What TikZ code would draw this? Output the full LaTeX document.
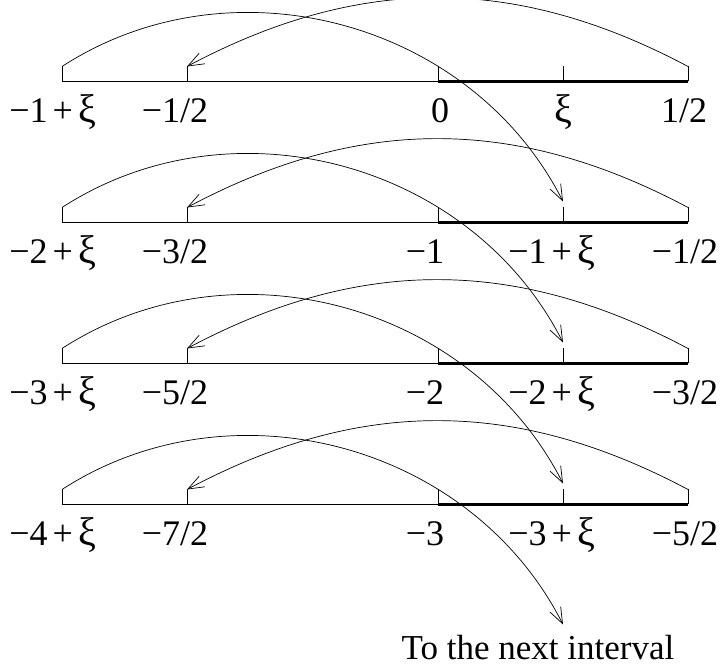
\documentclass[tikz,border=0pt]{standalone}
\usepackage{fontspec}
\setmainfont{Liberation Serif}
\usetikzlibrary{arrows.meta}
\newcommand{\xiglyph}{{\fontsize{40}{40}\selectfont ξ}}
\newcommand{\plusop}{\hspace{0.14em}+\hspace{0.16em}}
\tikzset{
  axisline/.style={line width=0.9pt},
  boldpart/.style={line width=3.8pt},
  tickmark/.style={line width=0.9pt},
  jump/.style={line width=0.7pt,-{Straight Barb[length=16pt,width=12pt,line width=0.7pt]}},
  lbl/.style={anchor=base,inner sep=0pt,font=\fontsize{36}{40}\selectfont}
}
\begin{document}
\begin{tikzpicture}[x=1pt,y=1pt]
\useasboundingbox (0,0) rectangle (722,671);
% rows
\foreach \r/\Y in {1/589.5,2/448.5,3/307.5,4/166.5}{
  \coordinate (a\r) at (62,\Y);
  \coordinate (h\r) at (187,\Y);
  \coordinate (z\r) at (438,\Y);
  \coordinate (x\r) at (563,\Y);
  \coordinate (e\r) at (688,\Y);
  \coordinate (at\r) at (62,\Y+15);
  \coordinate (ht\r) at (187,\Y+15);
  \coordinate (zt\r) at (438,\Y+15);
  \coordinate (xt\r) at (563,\Y+15);
  \coordinate (et\r) at (688,\Y+15);
  \coordinate (xa\r) at (563,\Y+21);
  \draw[axisline] (a\r) -- (z\r);
  \draw[boldpart] (z\r) -- (e\r);
  \foreach \p in {a,h,z,x,e}{\draw[tickmark] (\p\r) -- (\p t\r);}
}
\coordinate (xa5) at (563,46.5);
% labels
\foreach \r/\Y/\A/\B in {
  1/548/{−1\plusop\xiglyph}/{−1/2},
  2/407/{−2\plusop\xiglyph}/{−3/2},
  3/266/{−3\plusop\xiglyph}/{−5/2},
  4/125/{−4\plusop\xiglyph}/{−7/2}}{
  \node[lbl] (la\r) at (53,\Y) {\A};
  \node[lbl] (lb\r) at (175,\Y) {\B};
}
\node[lbl] (lc1) at (440,548) {0};
\node[lbl] (ld1) at (563,548) {\xiglyph};
\node[lbl] (le1) at (684,548) {1/2};
\foreach \r/\Y/\C/\D/\E in {
  2/407/{−1}/{−1\plusop\xiglyph}/{−1/2},
  3/266/{−2}/{−2\plusop\xiglyph}/{−3/2},
  4/125/{−3}/{−3\plusop\xiglyph}/{−5/2}}{
  \node[lbl] (lc\r) at (425,\Y) {\C};
  \node[lbl] (ld\r) at (552,\Y) {\D};
  \node[lbl] (le\r) at (685,\Y) {\E};
}
\node[lbl,font=\fontsize{35}{40}\selectfont] (next) at (538,11) {To the next interval};
% jumps
\foreach \r/\s in {1/2,2/3,3/4,4/5}{
  \draw[jump] (at\r) to[bend left=48] (xa\s);
  \draw[jump] (et\r) to[bend right=28] (ht\r);
}
\end{tikzpicture}
\end{document}
